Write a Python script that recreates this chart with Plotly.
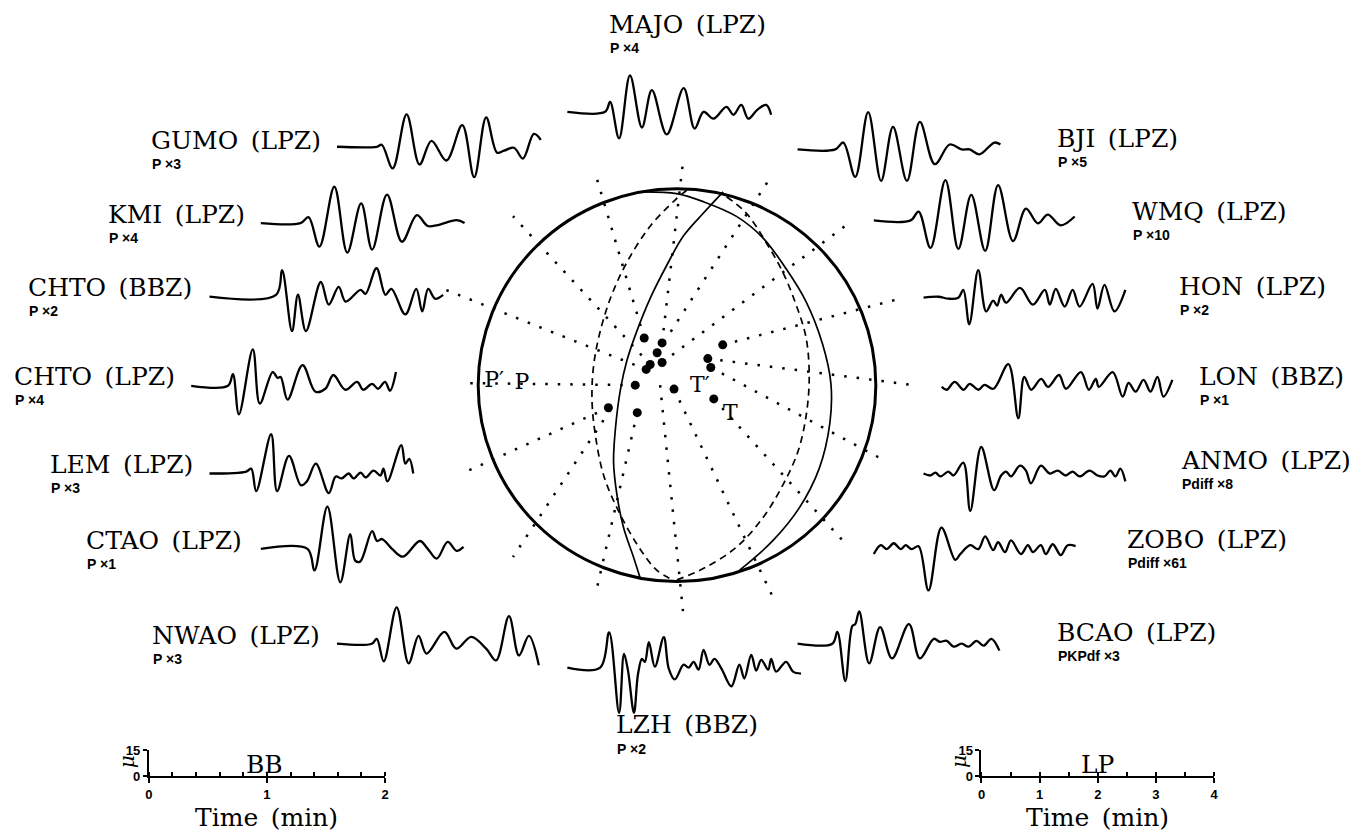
import plotly.graph_objects as go

# ---------------------------------------------------------------------------
# Seismogram samples: time offset from trace start and amplitude (up = +)
# ---------------------------------------------------------------------------
majo_t = [0, 38, 43, 52, 63, 75, 85, 100, 117, 128, 137, 147, 160, 167, 175, 182, 191, 200, 205]
majo_a = [0, 0, 10, -27, 37, -16, 22, -23, 24, -17, 0, -7, 5, -3, 7, -7, 2, 7, -3]

gumo_t = [0, 40, 45, 56, 70, 83, 95, 110, 126, 138, 150, 161, 168, 178, 187, 198, 205]
gumo_a = [0, 0, 2, -22, 33, -18, 6, -14, 22, -31, 30, -6, -4, -1, -12, 13, 7]

kmi_t = [0, 40, 48, 59, 74, 87, 101, 112, 127, 142, 157, 168, 178, 197, 205]
kmi_a = [0, 0, 6, -24, 37, -30, 20, -27, 29, -19, 8, -3, -2, 3, 0]

chto_bb_t = [0, 67, 73, 83, 89, 97, 112, 120, 130, 137, 152, 157, 168, 177, 183, 197, 208, 214, 220, 227, 235]
chto_bb_a = [0, 2, 27, -35, 2, -35, 15, -8, 10, -5, 7, 3, 29, 2, 8, -18, 8, -15, 8, -2, 2]

chto_lp_t = [0, 37, 42, 48, 62, 69, 82, 87, 90, 97, 112, 125, 135, 143, 155, 167, 173, 182, 188, 195, 200, 206]
chto_lp_a = [0, 0, 12, -29, 37, -18, 14, 8, 9, -14, 21, -6, -3, 11, -4, 4, -4, 2, -3, 4, -5, 14]

lem_t = [0, 37, 42, 47, 62, 68, 80, 92, 98, 107, 120, 127, 133, 140, 145, 152, 157, 165, 172, 175, 179, 193, 197, 201, 205]
lem_a = [0, 2, 5, -18, 40, -18, 18, -12, -8, 10, -20, -3, -5, 0, -5, 1, -4, 3, -2, 5, -8, 29, 10, 15, 0]

ctao_t = [0, 47, 54, 67, 80, 90, 95, 100, 112, 117, 122, 132, 143, 160, 168, 177, 188, 197, 204]
ctao_a = [0, 0, -22, 43, -34, 15, -12, -13, 18, 8, 10, 0, -8, 8, 0, -10, 7, -2, 2]

nwao_t = [0, 35, 40, 47, 60, 72, 82, 90, 108, 120, 135, 150, 160, 173, 183, 193, 203]
nwao_a = [0, 0, 5, -18, 37, -20, 8, -10, 12, -5, 7, -5, -17, 28, -12, 8, -22]

lzh_t = [0, 33, 42, 52, 57, 61, 67, 71, 75, 78, 82, 88, 97, 102, 108, 117, 122, 127, 132, 137,
         143, 148, 155, 165, 173, 178, 185, 190, 195, 202, 205, 210, 220, 227, 235]
lzh_a = [0, 0, 36, -46, 14, -3, -46, -7, 9, 6, 26, 1, 31, -1, -12, 3, 0, 6, -2, 18,
         3, 9, -1, -19, 3, -11, 13, -3, 8, -2, 9, -4, 6, -4, -6]

bcao_t = [0, 35, 40, 48, 55, 58, 62, 72, 83, 95, 112, 123, 137, 143, 150, 157, 165, 172, 180, 187, 195, 203]
bcao_a = [0, 0, 12, -38, 18, 20, 33, -20, 17, -15, 20, -15, 5, 2, 3, -3, 0, -3, 3, -2, 5, -7]

zobo_t = [0, 7, 13, 20, 27, 32, 38, 45, 55, 68, 82, 87, 97, 105, 112, 120, 125, 132, 138, 148,
          155, 160, 168, 173, 180, 188, 195, 203]
zobo_a = [-5, 4, 0, 6, 0, 4, 0, 3, -42, 22, -11, -5, 4, 0, 13, -1, 7, -3, 9, -5,
          4, -3, 4, -5, 5, -6, 4, 3]

anmo_t = [0, 7, 12, 17, 25, 30, 40, 47, 58, 71, 78, 83, 88, 97, 103, 108, 118, 127, 135, 143,
          150, 157, 167, 175, 182, 188, 193, 198, 203]
anmo_a = [0, -2, 1, -3, 2, -2, 11, -38, 27, -17, -2, 2, -3, 8, 3, -10, 8, 0, 3, -2,
          2, -3, 3, -2, -3, 3, -3, 5, -8]

lon_t = [0, 5, 13, 22, 28, 37, 43, 52, 67, 77, 83, 90, 100, 107, 118, 125, 140, 148, 155, 158,
         172, 182, 188, 195, 203, 210, 217, 223, 232]
lon_a = [0, -3, 5, -3, 3, -3, 2, -2, 23, -32, 10, -3, 8, 0, 12, -2, 15, -3, 8, 0,
         15, -10, 4, -5, 7, -5, 10, -10, 7]

hon_t = [0, 15, 25, 35, 40, 46, 55, 63, 70, 74, 78, 83, 97, 110, 122, 127, 133, 142, 150, 157,
         170, 175, 182, 192, 203]
hon_a = [0, 1, -1, 0, 8, -27, 28, -14, -3, -8, 3, -5, 10, -7, 8, -7, 9, -9, 8, -9,
         14, -11, 13, -14, 8]

wmq_t = [0, 37, 45, 57, 72, 85, 98, 112, 125, 140, 153, 165, 175, 188, 202]
wmq_a = [0, 0, 9, -28, 41, -29, 26, -31, 36, -21, 12, -3, 6, -5, 4]

bji_t = [0, 38, 46, 58, 71, 84, 96, 110, 123, 138, 153, 165, 173, 183, 198, 204]
bji_a = [0, 0, 7, -28, 38, -32, 23, -32, 28, -15, 5, 0, 0, -5, 7, 5]

# Station / component / phase-and-gain labels (same order as the traces)
station_names = ["MAJO", "GUMO", "KMI", "CHTO", "CHTO", "LEM", "CTAO", "NWAO",
                 "LZH", "BCAO", "ZOBO", "ANMO", "LON", "HON", "WMQ", "BJI"]
station_comps = ["(LPZ)", "(LPZ)", "(LPZ)", "(BBZ)", "(LPZ)", "(LPZ)", "(LPZ)", "(LPZ)",
                 "(BBZ)", "(LPZ)", "(LPZ)", "(LPZ)", "(BBZ)", "(LPZ)", "(LPZ)", "(LPZ)"]
station_gains = ["P ×4", "P ×3", "P ×4", "P ×2", "P ×4", "P ×3", "P ×1", "P ×3",
                 "P ×2", "PKPdf ×3", "Pdiff ×61", "Pdiff ×8", "P ×1", "P ×2", "P ×10", "P ×5"]
wave_t = [majo_t, gumo_t, kmi_t, chto_bb_t, chto_lp_t, lem_t, ctao_t, nwao_t,
          lzh_t, bcao_t, zobo_t, anmo_t, lon_t, hon_t, wmq_t, bji_t]
wave_a = [majo_a, gumo_a, kmi_a, chto_bb_a, chto_lp_a, lem_a, ctao_a, nwao_a,
          lzh_a, bcao_a, zobo_a, anmo_a, lon_a, hon_a, wmq_a, bji_a]

# ---------------------------------------------------------------------------
# Focal sphere (lower hemisphere, unit-radius projection)
# ---------------------------------------------------------------------------
sta_x = [-0.165, -0.075, -0.10, -0.075, -0.135, -0.155, -0.21, -0.345, -0.20, -0.015, 0.155, 0.17, 0.23, 0.185]
sta_y = [0.24, 0.215, 0.165, 0.115, 0.105, 0.08, 0.0, -0.115, -0.14, -0.02, 0.135, 0.09, 0.205, -0.07]

# dotted azimuth rays: inner end -> outer end
ray_x0 = [-0.075, -0.165, -0.10, -0.135, -0.155, -0.21, -0.345, -0.335, -0.20, -0.085, -0.015, 0.185, 0.17, 0.155, 0.23, -0.075]
ray_y0 = [0.215, 0.24, 0.165, 0.105, 0.08, 0.0, -0.115, -0.125, -0.14, 0.0, -0.02, -0.07, 0.09, 0.135, 0.205, 0.115]
ray_x1 = [0.03, -0.41, 0.475, -0.825, -1.175, -1.04, -1.06, -0.825, -0.41, 0.03, 0.48, 0.855, 1.055, 1.19, 1.14, 0.865]
ray_y1 = [1.135, 1.075, 1.065, 0.86, 0.49, 0.01, -0.44, -0.875, -1.065, -1.15, -1.075, -0.815, -0.39, 0.0, 0.445, 0.825]

# nodal planes (solid) and alternative planes (dashed)
s1_x = [0.232, 0.132, 0.032, -0.052, -0.135, -0.202, -0.252, -0.285, -0.31, -0.319, -0.302, -0.269, -0.219, -0.185]
s1_y = [0.984, 0.875, 0.759, 0.609, 0.442, 0.275, 0.125, -0.025, -0.225, -0.392, -0.559, -0.725, -0.875, -0.983]
s2_x = [-0.16, -0.002, 0.132, 0.299, 0.432, 0.549, 0.649, 0.732, 0.774, 0.769, 0.715, 0.615, 0.482, 0.315]
s2_y = [0.984, 0.975, 0.934, 0.859, 0.75, 0.592, 0.425, 0.209, 0.009, -0.192, -0.425, -0.625, -0.792, -0.942]
d1_x = [0.049, -0.01, -0.135, -0.252, -0.335, -0.394, -0.422, -0.427, -0.41, -0.369, -0.302, -0.202, -0.102, -0.019]
d1_y = [0.992, 0.942, 0.809, 0.625, 0.442, 0.242, 0.075, -0.092, -0.259, -0.459, -0.625, -0.809, -0.942, -0.992]
d2_x = [0.249, 0.349, 0.449, 0.532, 0.599, 0.649, 0.665, 0.649, 0.607, 0.532, 0.432, 0.299, 0.132, -0.002]
d2_y = [0.959, 0.875, 0.725, 0.575, 0.409, 0.242, 0.042, -0.159, -0.342, -0.509, -0.675, -0.825, -0.934, -0.992]

# P and T axes labels
axis_labels = ["P′", "P", "T′", "T"]
axis_lx = [-0.92, -0.78, 0.115, 0.268]
axis_ly = [0.02, 0.01, -0.008, -0.15]

# scale bars
bb_range = [0, 2]
lp_range = [0, 4]
amp_range = [0, 15]

# ---------------------------------------------------------------------------
# Layout constants (pixels)
# ---------------------------------------------------------------------------
W, H = 1356, 840
trace_origin = [(566.7, 106.7), (335, 142.3), (258.3, 220), (206.7, 295), (188.3, 385.7),
                (206.7, 475), (258.3, 551.7), (335, 648.3), (566.7, 672.7), (798.3, 648.3),
                (875, 552), (925, 475), (943.3, 386.7), (925, 296), (875, 217.3), (798.3, 145)]
label_anchor = [(607, 20), (146, 138), (103, 213), (22, 288), (8, 378), (44, 468), (80, 545),
                (147, 642), (614, 733), (1057, 639), (1128, 544), (1182, 464), (1200, 378),
                (1180, 287), (1133, 210), (1057, 136)]
MAIN_DY = -2
SUB_DY = 22
BALL_CX, BALL_CY, BALL_R = 677, 385, 200
NET_SPAN = 1.3

SERIF = "DejaVu Serif"
SANS = "Liberation Sans"

fig = go.Figure()

# seismograms
for t, a, (x0, y0) in zip(wave_t, wave_a, trace_origin):
    fig.add_trace(go.Scatter(
        x=[x0 + v for v in t], y=[y0 - v for v in a], mode="lines",
        line=dict(color="black", width=2.3, shape="spline", smoothing=1.0),
        xaxis="x", yaxis="y", hoverinfo="skip", showlegend=False))

# azimuth rays
rx, ry = [], []
for xa, ya, xb, yb in zip(ray_x0, ray_y0, ray_x1, ray_y1):
    rx += [xa, xb, None]
    ry += [ya, yb, None]
fig.add_trace(go.Scatter(x=rx, y=ry, mode="lines", xaxis="x2", yaxis="y2",
                         line=dict(color="black", width=2.5, dash="2.5px,10px"),
                         hoverinfo="skip", showlegend=False))

for px, py, dash in [(s1_x, s1_y, "solid"), (s2_x, s2_y, "solid"),
                     (d1_x, d1_y, "7px,5px"), (d2_x, d2_y, "7px,5px")]:
    fig.add_trace(go.Scatter(x=px, y=py, mode="lines", xaxis="x2", yaxis="y2",
                             line=dict(color="black", width=1.7, dash=dash,
                                       shape="spline", smoothing=1.0),
                             hoverinfo="skip", showlegend=False))

fig.add_trace(go.Scatter(x=sta_x, y=sta_y, mode="markers", xaxis="x2", yaxis="y2",
                         marker=dict(color="black", size=9), cliponaxis=False,
                         hoverinfo="skip", showlegend=False))

fig.add_trace(go.Scatter(x=axis_lx, y=axis_ly, mode="text", text=axis_labels,
                         textfont=dict(family=SERIF, size=22, color="black"),
                         xaxis="x2", yaxis="y2", cliponaxis=False,
                         hoverinfo="skip", showlegend=False))

# empty traces so the scale-bar subplots are drawn
fig.add_trace(go.Scatter(x=[], y=[], xaxis="x3", yaxis="y3", showlegend=False))
fig.add_trace(go.Scatter(x=[], y=[], xaxis="x4", yaxis="y4", showlegend=False))

fig.add_shape(type="circle", xref="x2", yref="y2", x0=-1, y0=-1, x1=1, y1=1,
              line=dict(color="black", width=3))

annotations = []
for name, comp, gain, (lx, ly) in zip(station_names, station_comps, station_gains, label_anchor):
    annotations.append(dict(x=lx, y=ly + MAIN_DY, xref="x", yref="y", text=name + "\u2002" + comp,
                            showarrow=False, xanchor="left", yanchor="middle",
                            font=dict(family=SERIF, size=25, color="black")))
    annotations.append(dict(x=lx + 1, y=ly + SUB_DY, xref="x", yref="y", text=gain,
                            showarrow=False, xanchor="left", yanchor="middle",
                            font=dict(family=SANS, size=14, color="black", weight="bold")))

# scale-bar captions
for cx, title, ax_x in [(262, "BB", 145.7), (1100, "LP", 983.3)]:
    annotations.append(dict(x=cx, y=771, xref="x", yref="y", text=title, showarrow=False,
                            xanchor="center", yanchor="middle",
                            font=dict(family=SERIF, size=25, color="black")))
    annotations.append(dict(x=ax_x - 22, y=768, xref="x", yref="y", text="μ", showarrow=False,
                            textangle=-90, xanchor="center", yanchor="middle",
                            font=dict(family=SERIF, size=20, color="black", style="italic")))
for cx in (264, 1100):
    annotations.append(dict(x=cx, y=825, xref="x", yref="y", text="Time\u2002(min)", showarrow=False,
                            xanchor="center", yanchor="middle",
                            font=dict(family=SERIF, size=25, color="black")))

hidden = dict(visible=False, showgrid=False, zeroline=False, fixedrange=True)
tickfont = dict(family=SANS, size=13, color="black", weight="bold")


def scale_x(x_left, x_right, rng, minor_step, anchor):
    return dict(domain=[x_left / W, x_right / W], range=rng, anchor=anchor,
                showline=True, linewidth=2, linecolor="black", showgrid=False, zeroline=False,
                ticks="outside", ticklen=5, tickwidth=2, tickcolor="black", dtick=1, tick0=0,
                tickfont=tickfont, fixedrange=True,
                minor=dict(ticks="inside", dtick=minor_step, tick0=0, ticklen=4, tickwidth=1.5,
                           tickcolor="black", showgrid=False))


def scale_y(anchor):
    y0, y1 = 783.3, 757
    return dict(domain=[(H - y0) / H, (H - y1) / H], range=amp_range, anchor=anchor,
                showline=True, linewidth=2, linecolor="black", showgrid=False, zeroline=False,
                ticks="outside", ticklen=4, tickwidth=2, tickcolor="black",
                tickvals=amp_range, tickfont=tickfont, fixedrange=True)


fig.update_layout(
    width=W, height=H, autosize=False,
    margin=dict(l=0, r=0, t=0, b=0, pad=0),
    paper_bgcolor="white", plot_bgcolor="rgba(0,0,0,0)",
    showlegend=False, hovermode=False,
    xaxis=dict(domain=[0, 1], range=[0, W], **hidden),
    yaxis=dict(domain=[0, 1], range=[H, 0], **hidden),
    xaxis2=dict(domain=[(BALL_CX - NET_SPAN * BALL_R) / W, (BALL_CX + NET_SPAN * BALL_R) / W],
                range=[-NET_SPAN, NET_SPAN], anchor="y2", **hidden),
    yaxis2=dict(domain=[(H - BALL_CY - NET_SPAN * BALL_R) / H, (H - BALL_CY + NET_SPAN * BALL_R) / H],
                range=[-NET_SPAN, NET_SPAN], anchor="x2", **hidden),
    xaxis3=scale_x(145.7, 383.3, bb_range, 0.2, "y3"),
    yaxis3=scale_y("x3"),
    xaxis4=scale_x(983.3, 1217.3, lp_range, 0.5, "y4"),
    yaxis4=scale_y("x4"),
    annotations=annotations,
)

fig.write_html("out.html", config={"displayModeBar": False})
